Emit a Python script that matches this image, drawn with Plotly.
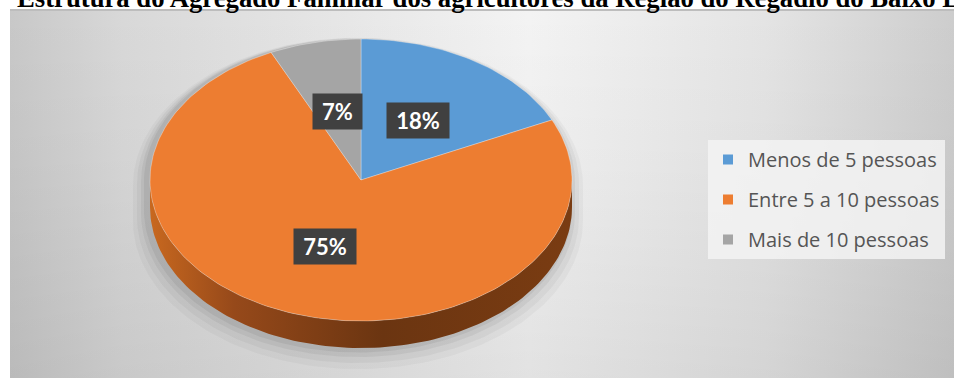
import numpy as np
import plotly.graph_objects as go

# ---------------- data ----------------
categories = ["Menos de 5 pessoas", "Entre 5 a 10 pessoas", "Mais de 10 pessoas"]
values = [18, 75, 7]
colors = ["#5b9bd5", "#ed7d31", "#a5a5a5"]
side_colors = [
    [[0, "#3f6e99"], [1, "#2c4e6e"]],
    [[0, "#c8681f"], [0.2, "#96491a"], [0.55, "#6b3511"], [1, "#7a3c12"]],
    [[0, "#7a7a7a"], [1, "#5a5a5a"]],
]
title_text = "Estrutura do Agregado Familiar dos agricultores da Região do Regadio do Baixo L"

# ---------------- layout geometry (pixels) ----------------
W, H = 954, 378
CX, CY = 361, 180      # pie centre
RX, RY = 211, 141      # ellipse radii
DEPTH = 27             # thickness of the 3D side

def px_x(p):
    return (p - CX) / RX

def px_y(p):
    return (CY - p) / RY

def arc(a0, a1, n=None):
    if n is None:
        n = max(2, int(abs(a1 - a0) / 1.5) + 2)
    t = np.radians(np.linspace(a0, a1, n))
    return np.sin(t), np.cos(t)

fig = go.Figure()

# background panel with gradient
bx0, bx1 = px_x(10), px_x(W)
by0, by1 = px_y(10), px_y(H)
rect_x = [bx0, bx1, bx1, bx0, bx0]
rect_y = [by0, by0, by1, by1, by0]
fig.add_trace(go.Scatter(
    x=rect_x, y=rect_y, mode="lines", fill="toself", line=dict(width=0),
    fillgradient=dict(type="horizontal",
                      colorscale=[[0, "#c8c8c8"], [0.12, "#d8d8d8"], [0.55, "#f3f3f3"],
                                  [0.8, "#e4e4e4"], [1, "#cdcdcd"]]),
    hoverinfo="skip", showlegend=False))
fig.add_trace(go.Scatter(
    x=rect_x, y=rect_y, mode="lines", fill="toself", line=dict(width=0),
    fillgradient=dict(type="vertical",
                      colorscale=[[0, "rgba(0,0,0,0.07)"], [0.6, "rgba(0,0,0,0.02)"],
                                  [1, "rgba(0,0,0,0)"]]),
    hoverinfo="skip", showlegend=False))
fig.add_trace(go.Scatter(
    x=[bx0, bx1], y=[by0, by0], mode="lines", line=dict(color="#bdbdbd", width=2),
    hoverinfo="skip", showlegend=False))

# soft shadow (mostly below / sides)
d = DEPTH / RY
for k, op in [(14, 0.03), (10, 0.04), (6, 0.05), (3, 0.06)]:
    sx = (RX + k) / RX
    sy = (RY + k * 0.5) / RY
    xs1, ys1 = arc(90, 270)
    xs2, ys2 = arc(270, 450)
    xs = np.concatenate([xs1 * sx, xs2 * sx]) - 3 / RX
    ys = np.concatenate([ys1 * sy - d - (k * 0.6) / RY, ys2 * sy]) - (k * 0.4) / RY
    fig.add_trace(go.Scatter(x=xs, y=ys, mode="lines", fill="toself",
                             line=dict(width=0), fillcolor=f"rgba(0,0,0,{op})",
                             hoverinfo="skip", showlegend=False))

total = sum(values)
starts = np.cumsum([0] + values[:-1]) / total * 360
ends = np.cumsum(values) / total * 360

# 3D sides (front half only: angles 90..270 clockwise from top)
for i in range(len(values)):
    a0, a1 = max(starts[i], 90), min(ends[i], 270)
    if a1 <= a0:
        continue
    xs, ys = arc(a0, a1)
    px = np.concatenate([xs, xs[::-1], xs[:1]])
    py = np.concatenate([ys, ys[::-1] - d, ys[:1]])
    fig.add_trace(go.Scatter(x=px, y=py, mode="lines", fill="toself", line=dict(width=0),
                             fillgradient=dict(type="horizontal", colorscale=side_colors[i]),
                             hoverinfo="skip", showlegend=False))

# top faces
for i in range(len(values)):
    xs, ys = arc(starts[i], ends[i])
    px = np.concatenate([[0], xs, [0]])
    py = np.concatenate([[0], ys, [0]])
    fig.add_trace(go.Scatter(x=px, y=py, mode="lines", fill="toself",
                             line=dict(width=0.6, color="rgba(255,255,255,0.5)"),
                             fillcolor=colors[i], hoverinfo="skip", showlegend=False))

# legend entries
for i, c in enumerate(categories):
    fig.add_trace(go.Scatter(x=[None], y=[None], mode="markers", name=c,
                             legendgroup=f"g{i}",
                             marker=dict(symbol="square", size=10, color=colors[i])))

# data labels
for i in range(len(values)):
    mid = np.radians((starts[i] + ends[i]) / 2)
    txt = f"{round(values[i] / total * 100)}%"
    fig.add_annotation(x=0.5 * np.sin(mid), y=0.5 * np.cos(mid), text=f"<b>{txt}</b>",
                       showarrow=False, bgcolor="#404040", borderpad=5,
                       width=13 * len(txt) + 13, height=25,
                       font=dict(family="Lato", size=22, color="white"))

# title (clipped at top as in reference)
fig.add_annotation(x=15 / W, y=1 + 2 / H, xref="paper", yref="paper",
                   xanchor="left", yanchor="middle", showarrow=False,
                   text=f"<b>{title_text}</b>",
                   font=dict(family="Liberation Serif", size=26.7, color="black"))

fig.update_layout(
    width=W, height=H, margin=dict(l=0, r=0, t=0, b=0),
    paper_bgcolor="white", plot_bgcolor="white",
    xaxis=dict(range=[px_x(0), px_x(W)], visible=False, fixedrange=True),
    yaxis=dict(range=[px_y(H), px_y(0)], visible=False, fixedrange=True),
    legend=dict(x=708 / W, y=1 - 140 / H, xanchor="left", yanchor="top",
                bgcolor="rgba(243,243,243,0.85)", tracegroupgap=11,
                font=dict(family="Open Sans", size=20, color="#555555"),
                itemwidth=30),
    showlegend=True,
)

fig.write_html("out.html")
